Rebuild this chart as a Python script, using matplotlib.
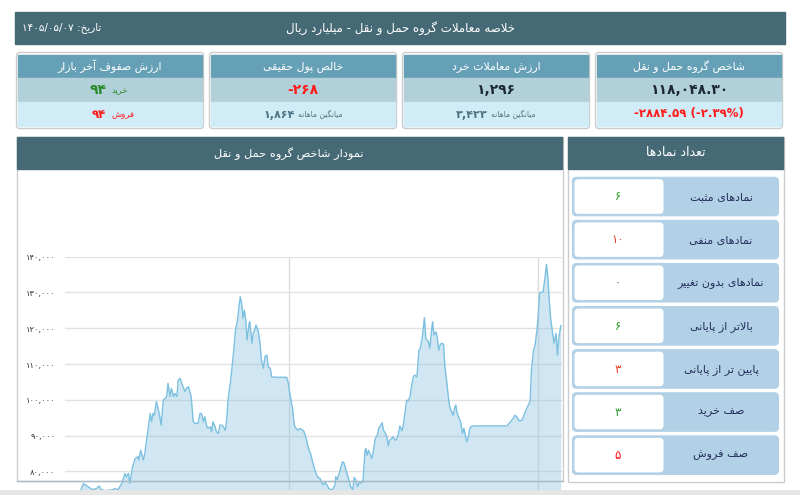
import matplotlib
matplotlib.use("Agg")
import matplotlib.pyplot as plt
from matplotlib.patches import FancyBboxPatch, Rectangle
import numpy as np

plt.rcParams['font.family'] = ['DejaVu Sans']

# ---------------- data ----------------
title = "خلاصه معاملات گروه حمل و نقل - میلیارد ریال"
date_label = "تاریخ:"
date_value = "1405/05/07"

card_titles = ["شاخص گروه حمل و نقل", "ارزش معاملات خرد", "خالص پول حقیقی", "ارزش صفوف آخر بازار"]
index_value = "118,048.30"
index_change = "-2884.59 (-2.39%)"
retail_value = "1,296"
retail_avg = "3,423"
real_money = "-268"
real_avg = "1,864"
queue_buy = "94"
queue_sell = "94"

chart_title = "نمودار شاخص گروه حمل و نقل"
count_title = "تعداد نمادها"
count_labels = ["نمادهای مثبت", "نمادهای منفی", "نمادهای بدون تغییر", "بالاتر از پایانی",
                "پایین تر از پایانی", "صف خرید", "صف فروش"]
count_values = [6, 10, 0, 6, 3, 3, 5]
count_colors = ['#2e9e2e', '#e4402a', '#555555', '#2e9e2e', '#e4402a', '#2e9e2e', '#ff1010']

# index history (day offset, index value)
days = [0, 15, 22, 27, 30, 35, 40, 46, 50, 53, 59, 71, 73, 78, 83, 88, 90, 93, 95, 99,
        103, 107, 108, 111, 115, 117, 121, 125, 127, 129, 131, 134, 137, 139, 141, 144, 147, 149, 151, 154,
        156, 159, 161, 164, 166, 169, 171, 173, 176, 178, 181, 185, 188, 191, 195, 198, 200, 203, 205, 208,
        210, 213, 215, 217, 220, 222, 225, 227, 230, 232, 235, 237, 239, 243, 247, 250, 253, 255, 257, 259,
        261, 263, 265, 267, 270, 271, 274, 276, 278, 280, 283, 286, 288, 291, 293, 296, 298, 301, 303, 308,
        318, 325, 327, 330, 334, 336, 339, 342, 345, 347, 350, 353, 357, 360, 363, 365, 368, 371, 374, 377,
        379, 381, 384, 387, 391, 393, 396, 397, 399, 402, 404, 407, 409, 412, 415, 419, 422, 424, 426, 429,
        431, 435, 437, 440, 441, 443, 445, 447, 450, 452, 455, 458, 460, 463, 465, 467, 469, 472, 474, 476,
        479, 481, 484, 486, 489, 491, 494, 496, 498, 501, 503, 506, 508, 511, 513, 516, 517, 519, 521, 524,
        527, 529, 533, 535, 538, 539, 541, 544, 546, 548, 550, 552, 555, 557, 560, 562, 564, 567, 569, 572,
        573, 575, 578, 580, 583, 585, 587, 589, 591, 593, 595, 599, 648, 652, 657, 660, 663, 666, 670, 673,
        677, 682, 684, 687, 689, 692, 694, 696, 701, 704, 706, 708, 710, 712, 715, 717, 720, 722, 724, 727]
index_hist = [72000, 73500, 74200, 76600, 76200, 75500, 74900, 75200, 75900, 74900, 74600, 74900, 75200, 74900, 76600, 79400, 78500, 79400, 76600, 81300,
              83600, 84100, 83200, 85900, 83200, 85000, 90600, 96200, 93900, 96200, 95700, 99500, 97100, 95300, 92900, 99900, 100400, 100900, 104600, 100900,
              103200, 100900, 101800, 100900, 105500, 106000, 104600, 103700, 102300, 103200, 103700, 100900, 93900, 93400, 93400, 96200, 96200, 93900, 95300, 92500,
              92000, 92500, 91100, 93900, 92500, 91100, 90600, 92900, 92900, 92500, 91500, 94300, 99900, 105500, 113000, 119500, 122300, 126000, 128800, 127000,
              122800, 125100, 122300, 116700, 121400, 121800, 115800, 118600, 119500, 120900, 119500, 115800, 111100, 108800, 112000, 112500, 109200, 108800, 106400, 106300,
              106300, 106300, 105000, 101300, 97100, 92900, 92000, 91500, 92000, 91700, 91300, 89700, 86400, 85000, 82700, 81300, 79400, 78300, 78000, 76600,
              76200, 77100, 76200, 75200, 74800, 75200, 76200, 78500, 77700, 79400, 80800, 82700, 82400, 80400, 78500, 75700, 74900, 78300, 77700, 75700,
              76800, 76800, 77600, 85900, 86400, 84500, 85900, 85000, 83600, 85500, 89200, 90100, 92000, 92900, 93600, 91500, 90900, 89700, 87100, 88700,
              89200, 89700, 88700, 88900, 90600, 92700, 91300, 92900, 95700, 99900, 99700, 100900, 103700, 106600, 106900, 106400, 108800, 113900, 114400, 117600,
              123000, 117200, 116200, 114400, 120400, 121800, 118100, 119000, 117200, 113900, 115300, 115800, 115600, 109200, 104600, 100900, 98100, 96700, 95700, 98100,
              98500, 96200, 94800, 93900, 90600, 92000, 90100, 88300, 89200, 91500, 92500, 92700, 92700, 93600, 94800, 95700, 95100, 94100, 94300, 95700,
              97600, 99600, 108300, 113900, 115000, 119500, 123700, 129900, 130200, 134400, 137900, 134400, 127900, 122800, 118600, 115800, 118600, 112500, 117200, 120700]
y_ticks = [80000, 90000, 100000, 110000, 120000, 130000, 140000]
x_grid = [329, 694]

# ---------------- persian text helpers ----------------
FORMS = {
    'ا': ('\uFE8D', '\uFE8E', None, None), 'آ': ('\uFE81', '\uFE82', None, None),
    'ب': ('\uFE8F', '\uFE90', '\uFE91', '\uFE92'), 'پ': ('\uFB56', '\uFB57', '\uFB58', '\uFB59'),
    'ت': ('\uFE95', '\uFE96', '\uFE97', '\uFE98'), 'ث': ('\uFE99', '\uFE9A', '\uFE9B', '\uFE9C'),
    'ج': ('\uFE9D', '\uFE9E', '\uFE9F', '\uFEA0'), 'چ': ('\uFB7A', '\uFB7B', '\uFB7C', '\uFB7D'),
    'ح': ('\uFEA1', '\uFEA2', '\uFEA3', '\uFEA4'), 'خ': ('\uFEA5', '\uFEA6', '\uFEA7', '\uFEA8'),
    'د': ('\uFEA9', '\uFEAA', None, None), 'ذ': ('\uFEAB', '\uFEAC', None, None),
    'ر': ('\uFEAD', '\uFEAE', None, None), 'ز': ('\uFEAF', '\uFEB0', None, None),
    'ژ': ('\uFB8A', '\uFB8B', None, None),
    'س': ('\uFEB1', '\uFEB2', '\uFEB3', '\uFEB4'), 'ش': ('\uFEB5', '\uFEB6', '\uFEB7', '\uFEB8'),
    'ص': ('\uFEB9', '\uFEBA', '\uFEBB', '\uFEBC'), 'ض': ('\uFEBD', '\uFEBE', '\uFEBF', '\uFEC0'),
    'ط': ('\uFEC1', '\uFEC2', '\uFEC3', '\uFEC4'), 'ظ': ('\uFEC5', '\uFEC6', '\uFEC7', '\uFEC8'),
    'ع': ('\uFEC9', '\uFECA', '\uFECB', '\uFECC'), 'غ': ('\uFECD', '\uFECE', '\uFECF', '\uFED0'),
    'ف': ('\uFED1', '\uFED2', '\uFED3', '\uFED4'), 'ق': ('\uFED5', '\uFED6', '\uFED7', '\uFED8'),
    'ک': ('\uFB8E', '\uFB8F', '\uFB90', '\uFB91'), 'گ': ('\uFB92', '\uFB93', '\uFB94', '\uFB95'),
    'ل': ('\uFEDD', '\uFEDE', '\uFEDF', '\uFEE0'), 'م': ('\uFEE1', '\uFEE2', '\uFEE3', '\uFEE4'),
    'ن': ('\uFEE5', '\uFEE6', '\uFEE7', '\uFEE8'), 'و': ('\uFEED', '\uFEEE', None, None),
    'ه': ('\uFEE9', '\uFEEA', '\uFEEB', '\uFEEC'), 'ی': ('\uFBFC', '\uFBFD', '\uFBFE', '\uFBFF'),
}
LAM_ALEF = {'ا': ('\uFEFB', '\uFEFC'), 'آ': ('\uFEF5', '\uFEF6')}


def shape(s):
    out = []
    i = 0
    while i < len(s):
        c = s[i]
        if c not in FORMS:
            out.append(c)
            i += 1
            continue
        prev = s[i - 1] if i > 0 else ''
        jp = prev in FORMS and FORMS[prev][2] is not None
        nxt = s[i + 1] if i + 1 < len(s) else ''
        if c == 'ل' and nxt in LAM_ALEF:
            out.append(LAM_ALEF[nxt][1 if jp else 0])
            i += 2
            continue
        f = FORMS[c]
        jn = f[2] is not None and nxt in FORMS
        if jp and jn:
            out.append(f[3])
        elif jp:
            out.append(f[1])
        elif jn:
            out.append(f[2])
        else:
            out.append(f[0])
        i += 1
    return ''.join(out)


def fd(s):
    return ''.join(chr(0x06F0 + int(ch)) if ch.isdigit() else ch for ch in str(s))


def fa(s):
    # shape, then put in visual order
    return shape(s)[::-1]


# ---------------- figure ----------------
W, H = 800, 495
fig = plt.figure(figsize=(8, 4.95), dpi=100)
bg = fig.add_axes([0, 0, 1, 1])
bg.set_xlim(0, W)
bg.set_ylim(H, 0)
bg.axis('off')

DARK = '#466a75'
CARD_HEAD = '#66a0b6'
CARD_MID = '#b1d0da'
CARD_LOW = '#d0ecf7'
BORDER = '#cccccc'
NAVY = '#1d2a36'

# top bar
bg.add_patch(Rectangle((15, 12), 770, 32, color=DARK))
bg.text(400, 28, fa(title), color='white', fontsize=8.5, ha='center', va='center')
bg.text(22, 28, fd(date_value) + ' ' + fa(date_label), color='white', fontsize=7.5,
        ha='left', va='center')

# cards (right to left)
card_x = [597, 404, 211, 18]
cw = 184
for k, x0 in enumerate(card_x):
    bg.add_patch(FancyBboxPatch((x0 - 1.5, 52.5), cw + 3, 76, boxstyle="round,pad=0,rounding_size=3",
                                fc='white', ec=BORDER, lw=1))
    bg.add_patch(Rectangle((x0, 54.5), cw, 23.5, color=CARD_HEAD))
    bg.add_patch(Rectangle((x0, 78), cw, 24, color=CARD_MID))
    bg.add_patch(Rectangle((x0, 102), cw, 24, color=CARD_LOW))
    cx = x0 + cw / 2
    bg.text(cx, 66.5, fa(card_titles[k]), color='white', fontsize=7.8, ha='center', va='center')

cx = [x0 + cw / 2 for x0 in card_x]
bg.text(cx[0], 90.5, fd(index_value), color=NAVY, fontsize=10, weight='bold', ha='center', va='center')
bg.text(cx[0], 114, fd(index_change), color='#ff1a1a', fontsize=8.5, weight='bold', ha='center', va='center')

bg.text(cx[1], 90.5, fd(retail_value), color=NAVY, fontsize=10, weight='bold', ha='center', va='center')
bg.text(cx[1] - 8, 114.5, fd(retail_avg), color='#4e7384', fontsize=8, weight='bold', ha='right', va='center')
bg.text(cx[1] - 5, 114.5, fa("میانگین ماهانه"), color='#5b7380', fontsize=5.5, ha='left', va='center')

bg.text(cx[2], 90.5, fd(real_money), color='#ff1a1a', fontsize=10, weight='bold', ha='center', va='center')
bg.text(cx[2] - 8, 114.5, fd(real_avg), color='#4e7384', fontsize=8, weight='bold', ha='right', va='center')
bg.text(cx[2] - 5, 114.5, fa("میانگین ماهانه"), color='#5b7380', fontsize=5.5, ha='left', va='center')

bg.text(cx[3] - 4, 90.5, fd(queue_buy), color='#2a8a2a', fontsize=10, weight='bold', ha='right', va='center')
bg.text(cx[3] + 1, 91, fa("خرید"), color='#2a8a2a', fontsize=6, ha='left', va='center')
bg.text(cx[3] - 4, 114, fd(queue_sell), color='#ff1a1a', fontsize=8.5, weight='bold', ha='right', va='center')
bg.text(cx[3] + 1, 114.5, fa("فروش"), color='#ff1a1a', fontsize=6, ha='left', va='center')

# chart panel
bg.add_patch(Rectangle((16.5, 136.5), 546, 344.5, fc='white', ec=BORDER, lw=1))
bg.add_patch(Rectangle((17, 137), 545, 32, color=DARK))
bg.text(289, 154, fa(chart_title), color='white', fontsize=8.2, ha='center', va='center')

# count panel
bg.add_patch(Rectangle((567.5, 136.5), 216, 345, fc='white', ec=BORDER, lw=1))
bg.add_patch(Rectangle((568, 137), 215, 32, color=DARK))
bg.text(676, 153, fa(count_title), color='white', fontsize=9, ha='center', va='center')
for i, (lab, val, col) in enumerate(zip(count_labels, count_values, count_colors)):
    top = 177.3 + i * 43.1
    bg.add_patch(FancyBboxPatch((572.5, top), 206, 38.5, boxstyle="round,pad=0,rounding_size=4",
                                fc='#b3d1e6', ec='#b3d1e6', lw=0.8))
    bg.add_patch(FancyBboxPatch((574.5, top + 2), 89, 34.5, boxstyle="round,pad=0,rounding_size=4",
                                fc='white', ec='none'))
    bg.text(721, top + 19.5, fa(lab), color='#232e5c', fontsize=8, ha='center', va='center')
    bg.text(618, top + 19.5, fd(val), color=col, fontsize=8.5, ha='center', va='center')

# line chart: top edge at the 140,000 line, bottom clipped by the page
ax = fig.add_axes([65 / W, (H - 490) / H, 496.5 / W, (490 - 256.7) / H])
ax.set_facecolor('none')
ax.fill_between(days, index_hist, 60000, color='#8ac3e1', alpha=0.4, lw=0, zorder=2)
ax.plot(days, index_hist, color='#7cc0e0', lw=1, zorder=3)
ax.set_xlim(0, 728)
ax.set_ylim(74790, 140000)
ax.set_yticks(y_ticks)
ax.set_yticklabels([fd(f"{v:,}") for v in y_ticks], fontsize=6, color='#333333')
ax.set_xticks(x_grid)
ax.set_xticklabels([])
ax.tick_params(axis='both', length=0)
ax.tick_params(axis='y', pad=7)
ax.grid(True, axis='y', color='#e2e2e2', lw=1, zorder=1)
ax.grid(True, axis='x', color='#dcdcdc', lw=1, zorder=1)
ax.set_axisbelow(True)
for sp in ax.spines.values():
    sp.set_visible(False)

# overlay: panel bottom edge and page shadow
ov = fig.add_axes([0, 0, 1, 1])
ov.set_xlim(0, W)
ov.set_ylim(H, 0)
ov.axis('off')
ov.patch.set_alpha(0)
ov.plot([16.5, 562.5], [481, 481], color='#a9bcc6', lw=1)
ov.add_patch(Rectangle((0, 490), W, 5, color='#e6e6e6', lw=0))

fig.savefig('out.png', dpi=100)
